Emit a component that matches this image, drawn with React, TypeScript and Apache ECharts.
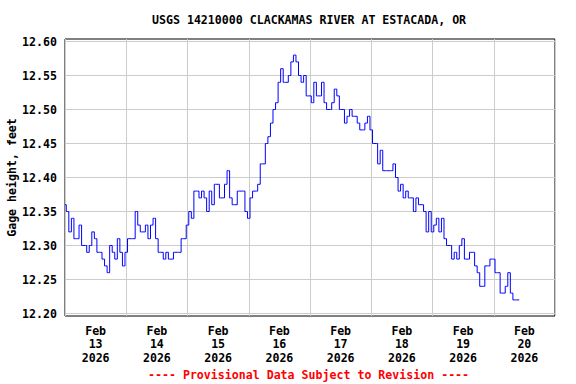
import React, { useEffect, useRef } from "react";
import * as echarts from "echarts";

const TITLE = "USGS 14210000 CLACKAMAS RIVER AT ESTACADA, OR";
const Y_AXIS_NAME = "Gage height, feet";
const FOOTNOTE = "---- Provisional Data Subject to Revision ----";
const DAY_LABELS = [
  "Feb\n13\n2026",
  "Feb\n14\n2026",
  "Feb\n15\n2026",
  "Feb\n16\n2026",
  "Feb\n17\n2026",
  "Feb\n18\n2026",
  "Feb\n19\n2026",
  "Feb\n20\n2026",
];
const Y_MIN = 12.2;
const Y_MAX = 12.6;
const Y_STEP = 0.05;
const HOURS_SPAN = 192; // Feb 13 00:00 .. Feb 21 00:00

// Hourly gage height (ft) starting Feb 13 00:00
const GAGE_HEIGHT = [
  12.36, 12.35, 12.32, 12.34, 12.31, 12.31, 12.33, 12.30, 12.30, 12.29,
  12.30, 12.32, 12.31, 12.29, 12.29, 12.28, 12.27, 12.26, 12.30, 12.29,
  12.28, 12.31, 12.29, 12.27, 12.29, 12.31, 12.31, 12.31, 12.35, 12.33,
  12.32, 12.32, 12.33, 12.31, 12.33, 12.34, 12.31, 12.29, 12.29, 12.28,
  12.29, 12.28, 12.28, 12.29, 12.29, 12.29, 12.31, 12.31, 12.33, 12.35,
  12.34, 12.38, 12.38, 12.37, 12.38, 12.37, 12.35, 12.38, 12.36, 12.39,
  12.39, 12.37, 12.37, 12.39, 12.41, 12.37, 12.36, 12.36, 12.38, 12.38,
  12.38, 12.35, 12.34, 12.37, 12.38, 12.38, 12.39, 12.42, 12.42, 12.45,
  12.46, 12.48, 12.50, 12.51, 12.54, 12.56, 12.54, 12.54, 12.55, 12.57,
  12.58, 12.57, 12.55, 12.54, 12.55, 12.52, 12.52, 12.51, 12.54, 12.52,
  12.52, 12.54, 12.51, 12.50, 12.50, 12.51, 12.53, 12.52, 12.50, 12.50,
  12.48, 12.49, 12.50, 12.49, 12.49, 12.48, 12.47, 12.47, 12.48, 12.49,
  12.47, 12.45, 12.45, 12.42, 12.44, 12.41, 12.41, 12.41, 12.41, 12.42,
  12.40, 12.38, 12.39, 12.37, 12.38, 12.37, 12.37, 12.35, 12.37, 12.36,
  12.36, 12.35, 12.32, 12.35, 12.32, 12.33, 12.34, 12.32, 12.34, 12.31,
  12.30, 12.30, 12.28, 12.29, 12.28, 12.30, 12.31, 12.28, 12.28, 12.29,
  12.29, 12.27, 12.26, 12.24, 12.24, 12.27, 12.27, 12.28, 12.28, 12.26,
  12.26, 12.23, 12.23, 12.24, 12.26, 12.23, 12.22, 12.22, 12.22,
];

const FONT = "'DejaVu Sans Mono', 'Liberation Mono', monospace";

export default function App() {
  const ref = useRef<HTMLDivElement>(null);

  useEffect(() => {
    if (!ref.current) return;
    const chart = echarts.init(ref.current, null, { renderer: "svg" });
    const data = GAGE_HEIGHT.map((v, i) => [i, v]);
    chart.setOption({
      animation: false,
      backgroundColor: "#ffffff",
      title: {
        text: TITLE,
        left: 152,
        top: 14,
        padding: 0,
        textStyle: { fontFamily: FONT, fontWeight: "bold", fontSize: 11.6, color: "#000" },
      },
      grid: [
        {
          left: 65,
          right: 21,
          top: 41.5,
          bottom: 70.5,
          containLabel: false,
          outerBoundsMode: "none",
        },
        {
          left: 65,
          right: 21,
          top: 39,
          bottom: 68,
          show: true,
          borderColor: "#000",
          borderWidth: 1,
          backgroundColor: "transparent",
          containLabel: false,
          outerBoundsMode: "none",
        },
      ],
      xAxis: [
        { gridIndex: 0, type: "value", min: 0, max: HOURS_SPAN, show: false },
        {
          gridIndex: 1,
          type: "value",
          position: "top",
          min: 0,
          max: HOURS_SPAN,
          interval: 24,
          axisLine: { show: false },
          axisTick: { show: false },
          axisLabel: { show: false },
          splitLine: { show: true, lineStyle: { color: "#cccccc", width: 1 } },
        },
        {
          gridIndex: 1,
          type: "category",
          position: "bottom",
          data: DAY_LABELS,
          boundaryGap: true,
          axisLine: { show: false },
          axisTick: { show: false },
          splitLine: { show: false },
          axisLabel: {
            fontFamily: FONT,
            fontWeight: "bold",
            fontSize: 11.6,
            lineHeight: 13.5,
            color: "#000",
            margin: 8,
            interval: 0,
          },
        },
      ],
      yAxis: [
        {
          gridIndex: 0,
          type: "value",
          min: Y_MIN,
          max: Y_MAX,
          interval: Y_STEP,
          axisLine: { show: false },
          axisTick: { show: false },
          axisLabel: {
            fontFamily: FONT,
            fontWeight: "bold",
            fontSize: 11.6,
            color: "#000",
            margin: 8,
            formatter: (v: number) => v.toFixed(2),
          },
          splitLine: { show: true, lineStyle: { color: "#cccccc", width: 1 } },
          name: Y_AXIS_NAME,
          nameLocation: "middle",
          nameRotate: 90,
          nameGap: 47,
          nameMoveOverlap: false,
          nameTextStyle: { fontFamily: FONT, fontWeight: "bold", fontSize: 11.6, color: "#000" },
        },
        { gridIndex: 1, type: "value", min: 0, max: 1, show: false },
      ],
      graphic: [
        {
          type: "text",
          left: 148,
          top: 369,
          style: {
            text: FOOTNOTE,
            fill: "#ff0000",
            font: "bold 11.6px " + FONT,
          },
        },
      ],
      series: [
        {
          type: "line",
          xAxisIndex: 0,
          yAxisIndex: 0,
          data,
          step: "middle",
          showSymbol: false,
          symbol: "none",
          lineStyle: { color: "#0000ff", width: 1 },
        },
      ],
    });
    return () => chart.dispose();
  }, []);

  return (
    <div
      ref={ref}
      style={{ position: "fixed", left: 0, top: 0, width: 576, height: 384, background: "#fff" }}
    />
  );
}
